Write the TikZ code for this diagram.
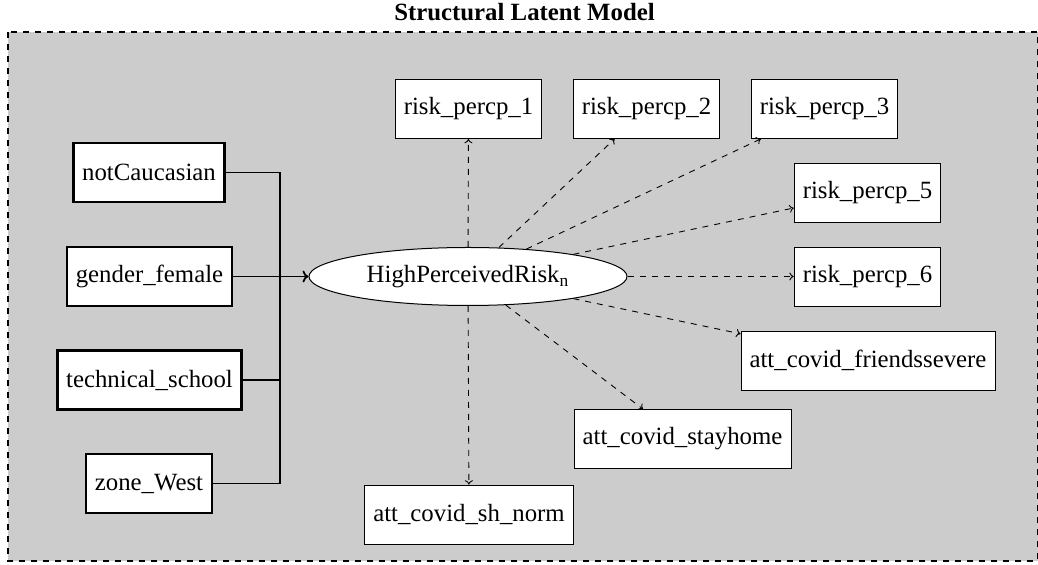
\documentclass[tikz,border=0pt]{standalone}
\usepackage{fontspec}
\setmainfont{Liberation Serif}
\usetikzlibrary{shapes.geometric,arrows.meta}
\begin{document}
\begin{tikzpicture}[x=0.5pt,y=-0.5pt,
  every node/.style={font=\fontsize{12.4}{15}\selectfont},
  obs/.style={draw, fill=white, line width=0.4pt, minimum height=29.5pt, inner xsep=4.3pt},
  cov/.style={obs, line width=1.1pt},
  lat/.style={draw, fill=white, ellipse, line width=0.5pt, minimum width=159pt, minimum height=29pt, inner sep=0pt},
  load/.style={dashed, line width=0.45pt, -{To[length=2.2pt,width=4pt]}},
  bus/.style={line width=0.9pt}]
\useasboundingbox (0,0) rectangle (1038,565);
% frame of the structural model
\draw[fill=gray!40, dashed, line width=0.8pt] (8,32) rectangle (1037.5,561);
\node[font=\fontsize{12.4}{15}\selectfont\bfseries] (title) at (524.5,12) {Structural Latent Model};

% latent variable
\node[lat] (hpr) at (468,276.5) {HighPerceivedRisk$_{\mathrm{n}}$};

% indicators
\node[obs] (r1) at (468.5,109) {risk\_percp\_1};
\node[obs] (r2) at (646.5,109) {risk\_percp\_2};
\node[obs] (r3) at (824.5,109) {risk\_percp\_3};
\node[obs] (r5) at (867.5,192.5) {risk\_percp\_5};
\node[obs] (r6) at (867.5,276.5) {risk\_percp\_6};
\node[obs] (fs) at (868,360.5) {att\_covid\_friendssevere};
\node[obs] (sh) at (682.5,439) {att\_covid\_stayhome};
\node[obs] (sn) at (469,514.5) {att\_covid\_sh\_norm};

% covariates
\node[cov] (nc) at (149,172.5) {notCaucasian};
\node[cov] (gf) at (149.5,276.5) {gender\_female};
\node[cov] (ts) at (149.5,380) {technical\_school};
\node[cov] (zw) at (149,483.5) {zone\_West};

% covariate bus
\coordinate (bus) at (280,276.5);
\draw[bus] (nc.east) -| (bus);
\draw[bus] (ts.east) -| (bus);
\draw[bus] (zw.east) -| (bus);
\draw[bus, -{To[length=3pt,width=6pt]}] (gf) -- (hpr);

% loadings
\foreach \t in {r1,r2,r3,r5,r6,fs,sh,sn}
  \draw[load] (hpr) -- (\t);
\end{tikzpicture}
\end{document}
